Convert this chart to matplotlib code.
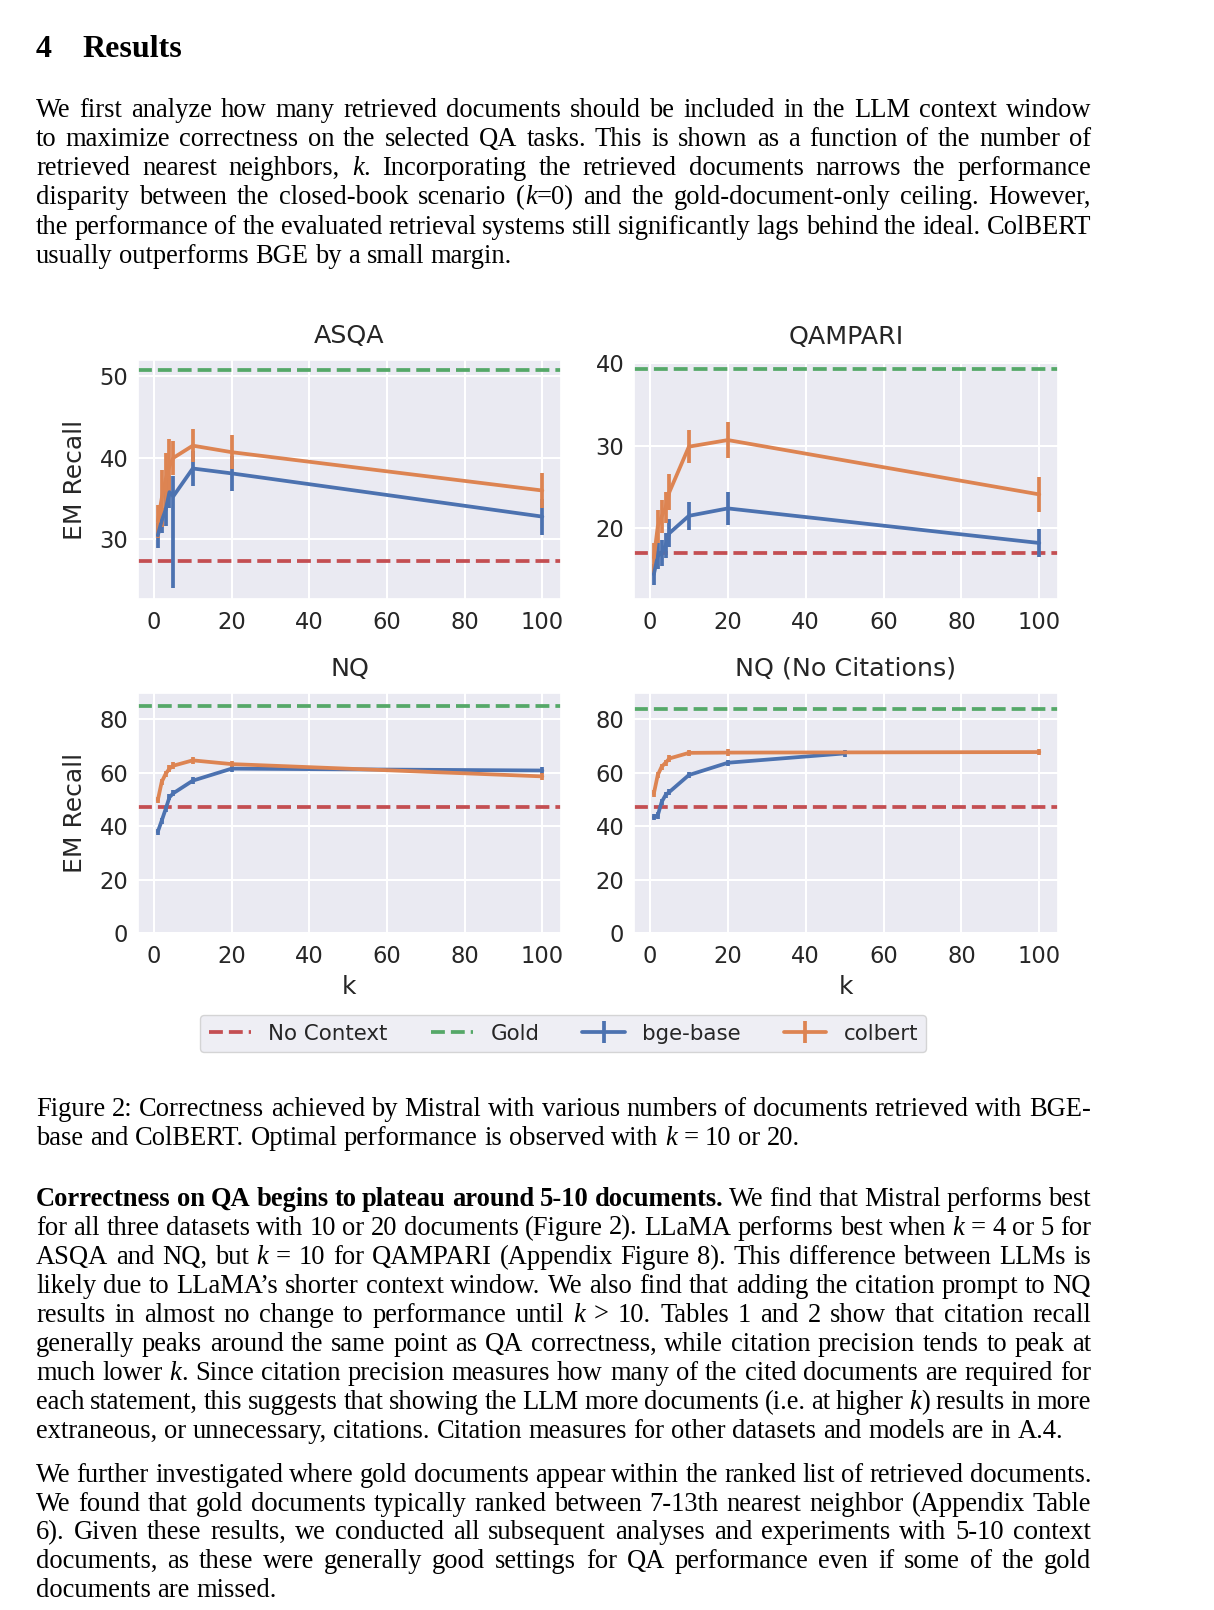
import matplotlib
matplotlib.use('Agg')
import matplotlib.pyplot as plt
import seaborn as sns
from matplotlib.font_manager import FontProperties

# values (EM recall vs k)
k_vals = [1, 2, 3, 4, 5, 10, 20, 100]
k_nqnc_bge = [1, 2, 3, 4, 5, 10, 20, 50]

asqa_bge = [30.5, 32.3, 33.6, 35.8, 35.3, 38.7, 38.1, 32.8]
asqa_bge_lo = [1.5, 1.5, 2.0, 2.0, 11.3, 2.1, 2.1, 2.2]
asqa_bge_hi = [1.5, 1.5, 2.2, 2.0, 2.5, 2.1, 2.1, 2.2]
asqa_col = [32.2, 35.0, 37.3, 39.0, 40.0, 41.5, 40.7, 36.0]
asqa_col_err = [2.0, 3.5, 3.3, 3.3, 2.1, 2.0, 2.1, 2.1]
asqa_gold, asqa_noctx = 50.8, 27.4

qampari_bge = [14.4, 16.6, 17.0, 17.9, 19.4, 21.5, 22.4, 18.2]
qampari_bge_err = [1.3, 1.6, 1.6, 1.5, 1.7, 1.7, 2.0, 1.7]
qampari_col = [16.4, 20.2, 21.4, 22.5, 24.4, 29.9, 30.7, 24.1]
qampari_col_err = [1.8, 2.0, 2.0, 1.9, 2.2, 2.0, 2.2, 2.1]
qampari_gold, qampari_noctx = 39.3, 17.0

nq_bge = [37.9, 42.0, 46.3, 50.8, 52.3, 57.0, 61.5, 60.8]
nq_bge_err = [1.2, 1.2, 1.2, 1.2, 1.2, 1.2, 1.2, 1.2]
nq_col = [49.7, 56.5, 59.5, 61.5, 62.6, 64.6, 63.2, 58.6]
nq_col_err = [1.2, 1.2, 1.2, 1.2, 1.2, 1.2, 1.2, 1.2]
nq_gold, nq_noctx = 85.0, 47.2

nqnc_bge = [43.3, 44.0, 49.0, 51.6, 52.8, 59.1, 63.7, 67.2]
nqnc_bge_err = [1.2, 1.2, 1.2, 1.2, 1.2, 1.2, 1.2, 1.2]
nqnc_col = [52.2, 59.1, 62.2, 63.7, 65.3, 67.4, 67.5, 67.7]
nqnc_col_err = [1.2, 1.2, 1.2, 1.2, 1.2, 1.2, 1.2, 1.2]
nqnc_gold, nqnc_noctx = 83.7, 47.2

# page text, '*' toggles italic, '@' toggles bold
para1 = [
    "We first analyze how many retrieved documents should be included in the LLM context window",
    "to maximize correctness on the selected QA tasks. This is shown as a function of the number of",
    "retrieved nearest neighbors, *k*. Incorporating the retrieved documents narrows the performance",
    "disparity between the closed-book scenario (*k*=0) and the gold-document-only ceiling. However,",
    "the performance of the evaluated retrieval systems still significantly lags behind the ideal. ColBERT",
    "usually outperforms BGE by a small margin.",
]
caption = [
    "Figure 2: Correctness achieved by Mistral with various numbers of documents retrieved with BGE-",
    "base and ColBERT. Optimal performance is observed with *k* = 10 or 20.",
]
para2 = [
    "@Correctness on QA begins to plateau around 5-10 documents.@ We find that Mistral performs best",
    "for all three datasets with 10 or 20 documents (Figure 2). LLaMA performs best when *k* = 4 or 5 for",
    "ASQA and NQ, but *k* = 10 for QAMPARI (Appendix Figure 8). This difference between LLMs is",
    "likely due to LLaMA’s shorter context window. We also find that adding the citation prompt to NQ",
    "results in almost no change to performance until *k* > 10. Tables 1 and 2 show that citation recall",
    "generally peaks around the same point as QA correctness, while citation precision tends to peak at",
    "much lower *k*. Since citation precision measures how many of the cited documents are required for",
    "each statement, this suggests that showing the LLM more documents (i.e. at higher *k*) results in more",
    "extraneous, or unnecessary, citations. Citation measures for other datasets and models are in A.4.",
]
para3 = [
    "We further investigated where gold documents appear within the ranked list of retrieved documents.",
    "We found that gold documents typically ranked between 7-13th nearest neighbor (Appendix Table",
    "6). Given these results, we conducted all subsequent analyses and experiments with 5-10 context",
    "documents, as these were generally good settings for QA performance even if some of the gold",
    "documents are missed.",
]

sns.set_theme(style='darkgrid', palette='deep')
plt.rcParams['font.family'] = ['DejaVu Sans']

W, H = 1214, 1610
fig = plt.figure(figsize=(W / 100, H / 100), dpi=100)
fig.patch.set_facecolor('white')
renderer = fig.canvas.get_renderer()

def fx(px):
    return px / W

def fy(py):
    return 1 - py / H

BLUE, ORANGE, GREEN, RED = '#4C72B0', '#DD8452', '#55A868', '#C44E52'
LW = 2.7

panels = [
    ('ASQA', (138, 561, 360, 599), k_vals, asqa_bge, [asqa_bge_lo, asqa_bge_hi],
     k_vals, asqa_col, asqa_col_err, asqa_gold, asqa_noctx, (22.7, 52.0), [30, 40, 50]),
    ('QAMPARI', (634, 1058, 361, 599), k_vals, qampari_bge, qampari_bge_err,
     k_vals, qampari_col, qampari_col_err, qampari_gold, qampari_noctx, (11.4, 40.3), [20, 30, 40]),
    ('NQ', (138, 561, 693, 933), k_vals, nq_bge, nq_bge_err,
     k_vals, nq_col, nq_col_err, nq_gold, nq_noctx, (0, 89.8), [0, 20, 40, 60, 80]),
    ('NQ (No Citations)', (634, 1058, 693, 933), k_nqnc_bge, nqnc_bge, nqnc_bge_err,
     k_vals, nqnc_col, nqnc_col_err, nqnc_gold, nqnc_noctx, (0, 89.8), [0, 20, 40, 60, 80]),
]

axes = []
for i, (title, box, kb, yb, eb, kc, yc, ec, gold, noctx, ylim, yticks) in enumerate(panels):
    l, r, t, b = box
    ax = fig.add_axes([fx(l), fy(b), (r - l) / W, (b - t) / H])
    ax.axhline(noctx, color=RED, ls='--', lw=LW, label='No Context')
    ax.axhline(gold, color=GREEN, ls='--', lw=LW, label='Gold')
    ax.errorbar(kb, yb, yerr=eb, color=BLUE, lw=LW, elinewidth=LW, label='bge-base')
    ax.errorbar(kc, yc, yerr=ec, color=ORANGE, lw=LW, elinewidth=LW, label='colbert')
    ax.set_xlim(-4.1, 104.8)
    ax.set_ylim(*ylim)
    ax.set_xticks([0, 20, 40, 60, 80, 100])
    ax.set_yticks(yticks)
    ax.tick_params(labelsize=16.3, length=0, colors='#262626')
    ax.tick_params(axis='x', pad=8.5)
    ax.tick_params(axis='y', pad=7)
    ax.grid(lw=1.5, color='white')
    ax.set_title(title, fontsize=18.3, pad=12.5, color='#262626')
    if i % 2 == 0:
        ax.set_ylabel('EM Recall', fontsize=18, color='#262626')
        ax.yaxis.set_label_coords(-0.12, 0.5)
    if i >= 2:
        ax.set_xlabel('k', fontsize=18, color='#262626')
        ax.xaxis.set_label_coords(0.5, -0.175)
    axes.append(ax)

handles, labels = axes[0].get_legend_handles_labels()
fig.legend(handles, labels, ncol=4, loc='upper left', bbox_to_anchor=(fx(200), fy(1015)),
           fontsize=15.4, borderaxespad=0, labelcolor='#262626')


# ---- page text ----
def parse(line):
    words, cur, buf = [], [], ''
    ital, bold = False, False
    for ch in line:
        if ch in '*@ ':
            if buf:
                cur.append((buf, ital, bold))
                buf = ''
            if ch == '*':
                ital = not ital
            elif ch == '@':
                bold = not bold
            elif cur:
                words.append(cur)
                cur = []
        else:
            buf += ch
    if buf:
        cur.append((buf, ital, bold))
    if cur:
        words.append(cur)
    return words

def fprops(ital, bold, size):
    return FontProperties(family='Liberation Serif', size=size,
                          style='italic' if ital else 'normal',
                          weight='bold' if bold else 'normal')

def text_w(s, fp):
    w, h, d = renderer.get_text_width_height_descent(s, fp, ismath=False)
    return w

def draw_line(line, y, justify, x0=36, x1=1091, size=19.1):
    words = parse(line)
    widths = [sum(text_w(s, fprops(it, bd, size)) for s, it, bd in wd) for wd in words]
    space = 0.25 * size * 100 / 72
    if justify and len(words) > 1:
        gap = (x1 - x0 - sum(widths)) / (len(words) - 1)
    else:
        gap = space
    x = x0
    for wd, ww in zip(words, widths):
        for s, it, bd in wd:
            fp = fprops(it, bd, size)
            fig.text(fx(x), fy(y), s, fontproperties=fp, va='baseline', ha='left', color='black')
            x += text_w(s, fp)
        x += gap

def draw_para(lines, y0, step):
    for j, line in enumerate(lines):
        draw_line(line, y0 + j * step, justify=(j < len(lines) - 1))

heading_fp = fprops(False, True, 23)
fig.text(fx(36), fy(57), '4', fontproperties=heading_fp, va='baseline', color='black')
fig.text(fx(82), fy(57), 'Results', fontproperties=heading_fp, va='baseline', color='black')

draw_para(para1, 116.7, 29.2)
draw_para(caption, 1116.3, 29.0)
draw_para(para2, 1205.5, 29.1)
draw_para(para3, 1481.7, 28.8)

fig.savefig('out.png', dpi=100, facecolor='white')
